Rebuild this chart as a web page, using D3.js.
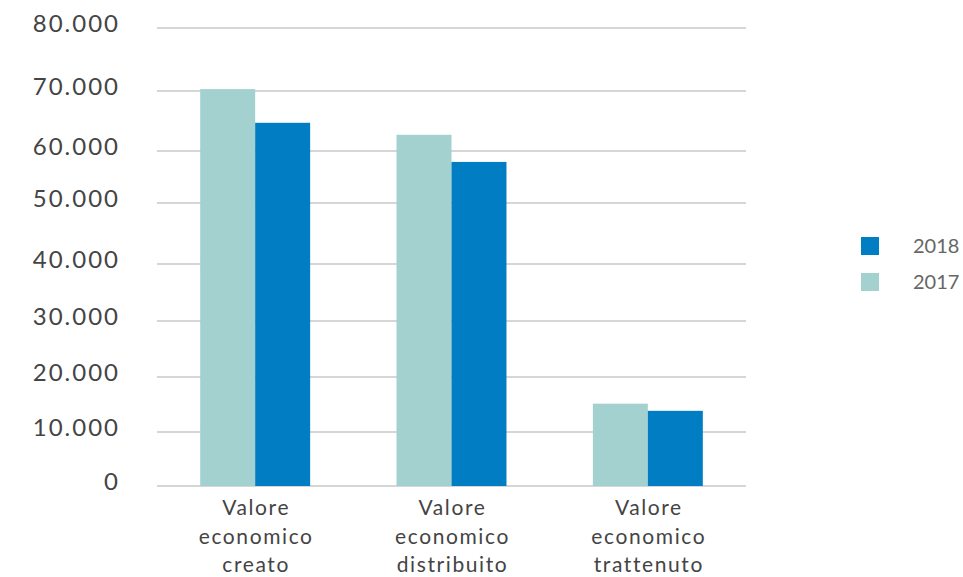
<!DOCTYPE html>
<html>
<head>
<meta charset="utf-8">
<style>
  body { margin: 0; background: #fff; }
  svg { font-family: "Lato", "Open Sans", sans-serif; }
</style>
</head>
<body>
<script src="https://d3js.org/d3.v7.min.js"></script>
<svg width="963" height="577"></svg>
<script>
// data
var categories = [
  ["Valore", "economico", "creato"],
  ["Valore", "economico", "distribuito"],
  ["Valore", "economico", "trattenuto"]
];
var values2017 = [70300, 62700, 15150];
var values2018 = [64700, 57900, 13850];
var years = ["2017", "2018"];
var legendYears = ["2018", "2017"];
var yTicks = [0, 10000, 20000, 30000, 40000, 50000, 60000, 70000, 80000];
var yTickLabels = ["0", "10.000", "20.000", "30.000", "40.000", "50.000", "60.000", "70.000", "80.000"];

var colors = { "2017": "#a3d1cf", "2018": "#007dc3" };

var svg = d3.select("svg");

// the gridlines in the source are not evenly spaced, so the scale is piecewise
var y = d3.scaleLinear()
    .domain(yTicks)
    .range([486, 432, 377, 321, 264, 203, 151, 91, 28]);

var x = d3.scaleBand()
    .domain(d3.range(categories.length))
    .range([157, 746])
    .paddingInner(0.44)
    .paddingOuter(0.22);

var xSub = d3.scaleBand()
    .domain(years)
    .range([0, x.bandwidth()]);

// gridlines
svg.append("g").selectAll("line")
    .data(yTicks)
    .enter().append("line")
    .attr("x1", 157).attr("x2", 746)
    .attr("y1", d => y(d)).attr("y2", d => y(d))
    .style("stroke", "#c8c8c8")
    .style("stroke-width", 1.5);

// y labels
svg.append("g").selectAll("text")
    .data(yTicks)
    .enter().append("text")
    .attr("x", 120)
    .attr("y", d => y(d) - 4)
    .attr("dy", "0.35em")
    .attr("text-anchor", "end")
    .style("font-size", "24px")
    .style("letter-spacing", "2px")
    .style("fill", "#444")
    .text((d, i) => yTickLabels[i]);

// bars
var rows = categories.map((c, i) => ({ i: i, "2017": values2017[i], "2018": values2018[i] }));

var groups = svg.append("g").selectAll("g")
    .data(rows)
    .enter().append("g")
    .attr("transform", d => "translate(" + x(d.i) + ",0)");

groups.selectAll("rect")
    .data(d => years.map(k => ({ key: k, value: d[k] })))
    .enter().append("rect")
    .attr("x", d => xSub(d.key))
    .attr("width", xSub.bandwidth())
    .attr("y", d => y(d.value))
    .attr("height", d => y(0) - y(d.value))
    .style("fill", d => colors[d.key]);

// category labels
var catLabels = svg.append("g").selectAll("text")
    .data(categories)
    .enter().append("text")
    .attr("text-anchor", "middle")
    .style("font-size", "21px")
    .style("letter-spacing", "1.6px")
    .style("fill", "#444");

catLabels.selectAll("tspan")
    .data((d, i) => d.map(t => ({ t: t, i: i })))
    .enter().append("tspan")
    .attr("x", d => x(d.i) + x.bandwidth() / 2 + 1)
    .attr("y", (d, j) => 515 + j * 28.5)
    .text(d => d.t);

// legend
var legend = svg.append("g").selectAll("g")
    .data(legendYears)
    .enter().append("g")
    .attr("transform", (d, i) => "translate(861," + (237 + i * 36) + ")");

legend.append("rect")
    .attr("width", 18).attr("height", 18)
    .style("fill", d => colors[d]);

legend.append("text")
    .attr("x", 52).attr("y", 9)
    .attr("dy", "0.35em")
    .style("font-size", "20px")
    .style("fill", "#666")
    .text(d => d);
</script>
</body>
</html>
